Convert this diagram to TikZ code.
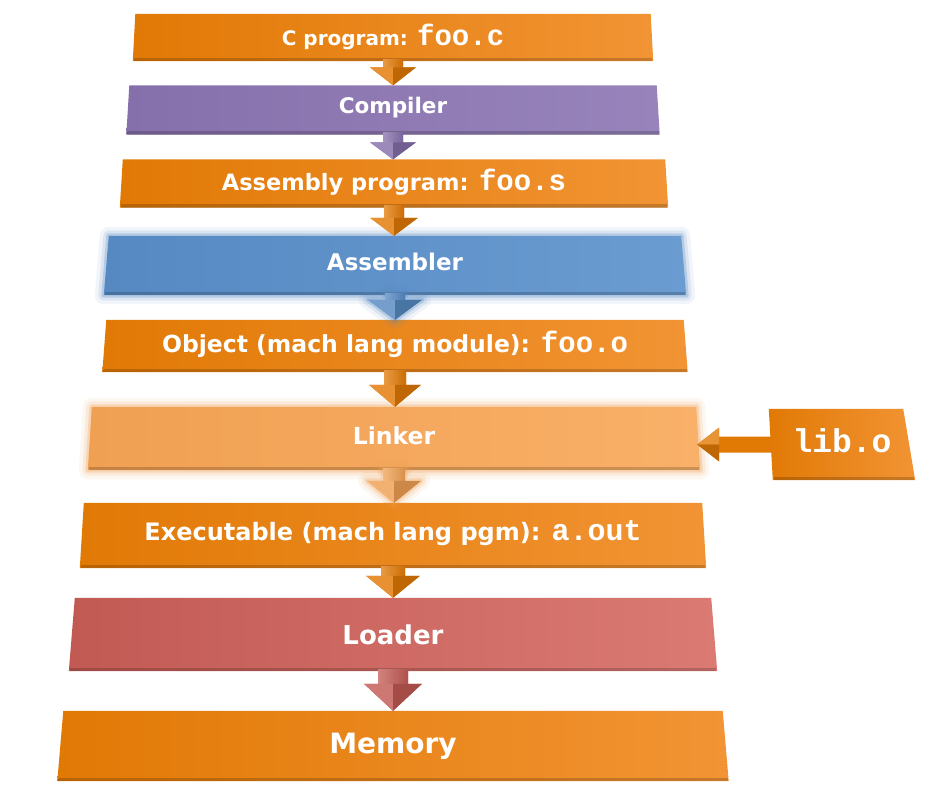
\documentclass[tikz,border=0pt]{standalone}
\usepackage{fontspec}
\setmainfont{DejaVu Sans}
\setmonofont{Liberation Mono}
\usetikzlibrary{calc}

\definecolor{orL}{HTML}{E17905}
\definecolor{orR}{HTML}{F29434}
\definecolor{puL}{HTML}{8670AC}
\definecolor{puR}{HTML}{9884BB}
\definecolor{blL}{HTML}{5689C2}
\definecolor{blR}{HTML}{6A9CD1}
\definecolor{liL}{HTML}{F0A052}
\definecolor{liR}{HTML}{F9B068}
\definecolor{reL}{HTML}{C25A54}
\definecolor{reR}{HTML}{DA7A73}

\newcommand\fsz[1]{\fontsize{#1}{#1}\selectfont\bfseries}
\newcommand\code[2]{{\fontsize{#1}{#1}\selectfont\ttfamily\bfseries #2}}

\tikzset{
  stage/.style={rectangle, inner sep=0pt, text=white},
  glow/.style={
    preaction={draw=#1, line width=18pt, opacity=0.08, line join=round},
    preaction={draw=#1, line width=11pt, opacity=0.14, line join=round},
    preaction={draw=#1, line width=5pt, opacity=0.28, line join=round}},
  edge3d/.style={line width=3.5pt, draw=#1},
  label/.style={text=white, inner sep=0pt},
}

% slab whose top edge is inset by #2 on both sides
\newcommand\slab[3]{%
  \path[#3] ($(#1.north west)+(#2,0)$) -- ($(#1.north east)+(-#2,0)$)
    -- (#1.south east) -- (#1.south west) -- cycle;
  \draw[edge3d=black, opacity=0.18]
    ($(#1.south west)+(1,-1.8)$) -- ($(#1.south east)+(-1,-1.8)$);
}

% block arrow from the bottom of one stage to the top of the next
% #2 from, #3 to, #4 colour, #5 shaft half width, #6 head half width, #7 head length
\newcommand\flowarrow[7][]{%
  \path[#1, fill=#4] let \p1=(#2.south), \p2=(#3.north) in
    (\x1-#5pt,\y1+2pt) -- (\x1+#5pt,\y1+2pt) -- (\x1+#5pt,\y2+#7pt)
    -- (\x1+#6pt,\y2+#7pt) -- (\x1,\y2) -- (\x1-#6pt,\y2+#7pt)
    -- (\x1-#5pt,\y2+#7pt) -- cycle;
  \shade[left color=#4!75!white, right color=#4!90!black] let \p1=(#2.south), \p2=(#3.north) in
    (\x1-#5pt,\y1+2pt) rectangle (\x1+#5pt,\y2+#7pt);
  \fill[#4!82!white] let \p1=(#2.south), \p2=(#3.north) in
    (\x1-#6pt,\y2+#7pt) -- (\x1,\y2+#7pt) -- (\x1,\y2) -- cycle;
  \fill[#4!85!black] let \p1=(#2.south), \p2=(#3.north) in
    (\x1+#6pt,\y2+#7pt) -- (\x1,\y2+#7pt) -- (\x1,\y2) -- cycle;
}

\begin{document}
\begin{tikzpicture}[x=1pt, y=-1pt]
  \fill[white] (0,0) rectangle (950,798);
  \useasboundingbox (0,0) rectangle (950,798);

  % pipeline stages (outlines only; the slabs are painted below)
  \node[stage, minimum width=520, minimum height=47] (src)  at (393,37.5) {};
  \node[stage, minimum width=533, minimum height=49] (cc)   at (393,110) {};
  \node[stage, minimum width=548, minimum height=48] (asm)  at (394,183.5) {};
  \node[stage, minimum width=582, minimum height=59] (as)   at (395,265.5) {};
  \node[stage, minimum width=585, minimum height=52] (obj)  at (395,346) {};
  \node[stage, minimum width=612, minimum height=63] (ld)   at (394,438.5) {};
  \node[stage, minimum width=626, minimum height=65] (exe)  at (393,535.5) {};
  \node[stage, minimum width=648, minimum height=73] (load) at (393,634.5) {};
  \node[stage, minimum width=671, minimum height=70] (mem)  at (393,746) {};
  \node[stage, minimum width=146, minimum height=71] (lib)  at (842,444.5) {};

  \slab{src}{2.5}{left color=orL, right color=orR}
  \slab{cc}{3}{left color=puL, right color=puR}
  \slab{asm}{3}{left color=orL, right color=orR}
  \slab{as}{5}{glow=blL, left color=blL, right color=blR}
  \slab{obj}{4}{left color=orL, right color=orR}
  \slab{ld}{4}{glow=liL, left color=liL, right color=liR}
  \slab{exe}{4}{left color=orL, right color=orR}
  \slab{load}{6}{left color=reL, right color=reR}
  \slab{mem}{6}{left color=orL, right color=orR}

  % library object, right side slanting outward
  \path[left color=orL, right color=orR] (lib.north west) -- ($(lib.north east)+(-12,0)$)
    -- (lib.south east) -- ($(lib.south west)+(4,0)$) -- cycle;
  \draw[edge3d=black, opacity=0.18]
    ($(lib.south west)+(5,-1.8)$) -- ($(lib.south east)+(-1,-1.8)$);

  % stage labels
  \node[label] (srct)  at ([yshift=1pt]src.center)  {\fsz{20}C program: \code{29}{foo.c}};
  \node[label] (cct)   at ([yshift=2pt]cc.center)   {\fsz{21.5}Compiler};
  \node[label] (asmt)  at ([yshift=1.5pt]asm.center) {\fsz{22.5}Assembly program: \code{29}{foo.s}};
  \node[label] (ast)   at ([yshift=4pt]as.center)   {\fsz{23}Assembler};
  \node[label] (objt)  at ([yshift=1.5pt]obj.center) {\fsz{23.5}Object (mach lang module): \code{29}{foo.o}};
  \node[label] (ldt)   at ([yshift=2.5pt]ld.center) {\fsz{23.5}Linker};
  \node[label] (exet)  at ([yshift=2.5pt]exe.center) {\fsz{24}Executable (mach lang pgm): \code{30}{a.out}};
  \node[label] (loadt) at ([yshift=0pt]load.center) {\fsz{26}Loader};
  \node[label] (memt)  at ([yshift=0pt]mem.center)  {\fsz{28}Memory};
  \node[label] (libt)  at ([yshift=4pt]lib.center)  {\code{33}{lib.o}};

  % flow arrows
  \flowarrow{src}{cc}{orL}{10}{23}{18}
  \flowarrow{cc}{asm}{puL}{10}{23}{17}
  \flowarrow{asm}{as}{orL}{10}{24}{18}
  \flowarrow[glow=blL]{as}{obj}{blL}{10}{27}{20}
  \flowarrow{obj}{ld}{orL}{11}{26}{22}
  \flowarrow[glow=liL]{ld}{exe}{liL}{11}{27}{22}
  \flowarrow{exe}{load}{orL}{12}{27}{22}
  \flowarrow{load}{mem}{reL}{15}{29}{27}

  % library arrow into the linker
  \path[fill=orL] let \p1=(lib.west), \p2=(ld.east) in
    (\x1+3pt,\y1+8pt) -- (\x2+19pt,\y1+8pt) -- (\x2+19pt,\y1+17pt)
    -- (\x2-3pt,\y1) -- (\x2+19pt,\y1-17pt) -- (\x2+19pt,\y1-8pt)
    -- (\x1+3pt,\y1-8pt) -- cycle;
  \fill[orL!80!white] let \p1=(lib.west), \p2=(ld.east) in
    (\x2+19pt,\y1+17pt) -- (\x2-3pt,\y1) -- (\x2+19pt,\y1) -- cycle;
  \fill[orL!85!black] let \p1=(lib.west), \p2=(ld.east) in
    (\x2+19pt,\y1-17pt) -- (\x2-3pt,\y1) -- (\x2+19pt,\y1) -- cycle;
\end{tikzpicture}
\end{document}
